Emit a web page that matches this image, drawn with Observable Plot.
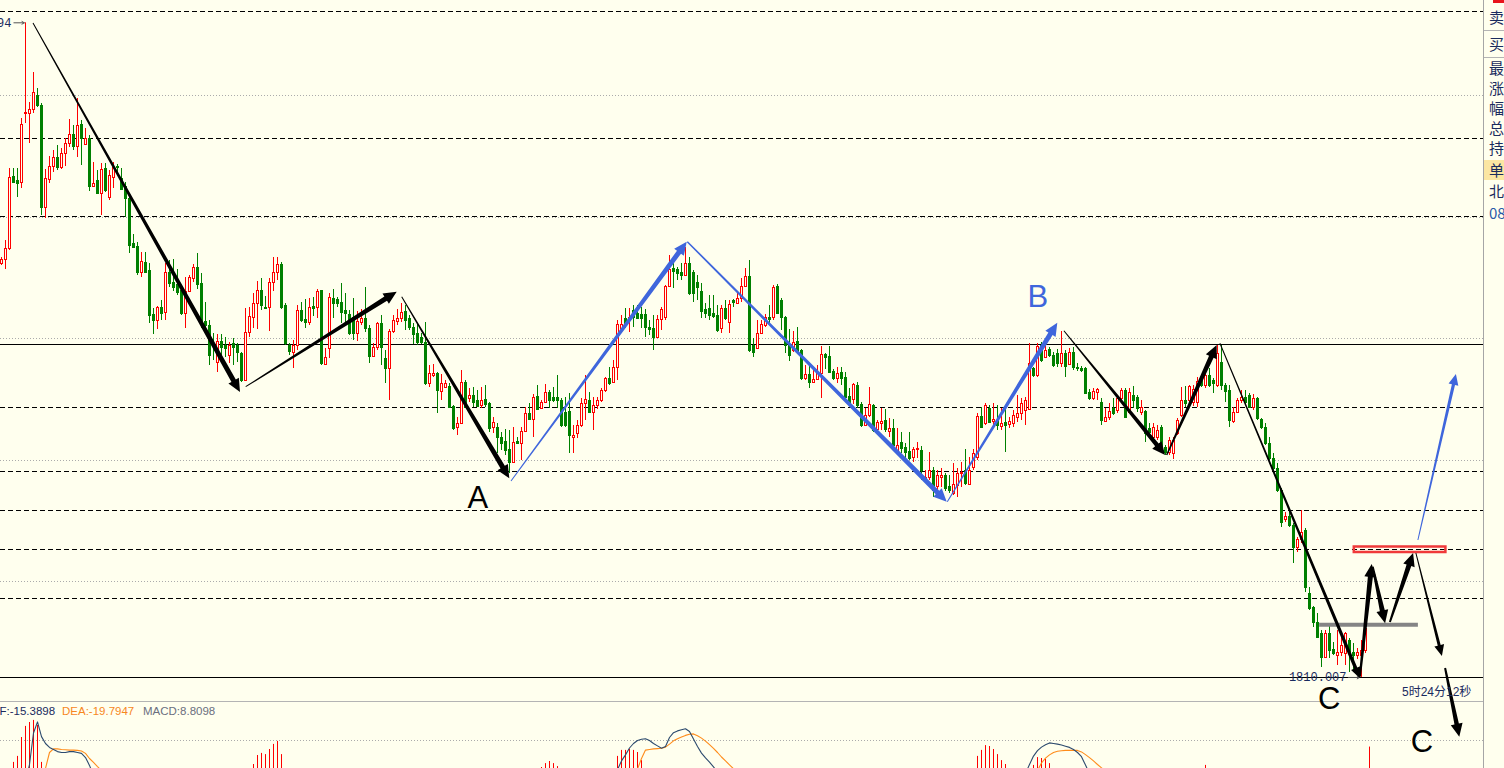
<!DOCTYPE html>
<html><head><meta charset="utf-8">
<script src="https://cdn.jsdelivr.net/npm/d3@7"></script>
<script src="https://cdn.jsdelivr.net/npm/@observablehq/plot@0.6"></script>
<style>
html,body{margin:0;padding:0;background:#FFFFEE;}
#wrap{position:relative;width:1504px;height:768px;overflow:hidden;background:#FFFFEE;font-family:"Liberation Sans",Arial,sans-serif;}
#macd{position:absolute;left:0;top:701px;width:1483px;height:67px;overflow:hidden;}
#macdsep{position:absolute;left:0;top:701px;width:1483px;height:1px;background:#b4b4b4;}
#main{position:absolute;left:0;top:0;width:1504px;height:768px;}
.lbl{position:absolute;white-space:nowrap;font-size:11.5px;line-height:14px;}
#countdown{position:absolute;left:1402px;top:684px;font-size:12px;line-height:16px;color:#1a2b5e;white-space:nowrap;font-family:"Liberation Sans","Noto Sans CJK SC",sans-serif;}
#panel{position:absolute;left:1483px;top:0;width:21px;height:768px;border-left:1px solid #a6a6a6;background:#FFFFEE;overflow:hidden;}
.pt{position:absolute;left:5px;font-size:15px;line-height:20px;color:#1a2b5e;white-space:nowrap;font-family:"Noto Sans CJK SC",sans-serif;}
.pl{position:absolute;left:0;width:21px;height:1px;background:#b4b4b4;}
</style></head><body>
<div id="wrap">
  <div id="macd"></div>
  <div id="macdsep"></div>
  <div id="main"></div>
  <div class="lbl" style="left:-12px;top:704px;color:#1a2b5e">DIF:-15.3898</div>
  <div class="lbl" style="left:62px;top:704px;color:#f7871e">DEA:-19.7947</div>
  <div class="lbl" style="left:143px;top:704px;color:#6b6f7f">MACD:8.8098</div>
  <div id="countdown">5时24分12秒</div>
  <div id="panel">
    <div style="position:absolute;left:9px;top:0;width:12px;height:3px;background:#e8141c"></div>
    <div class="pl" style="top:30px"></div>
    <div class="pl" style="top:57px"></div>
    <div style="position:absolute;left:0;top:160px;width:21px;height:20px;background:#fbe6a2"></div>
    <div class="pt" style="top:7px">卖出价</div>
    <div class="pt" style="top:34px">买入价</div>
    <div class="pt" style="top:58px">最新价</div>
    <div class="pt" style="top:78px">涨跌</div>
    <div class="pt" style="top:98px">幅度</div>
    <div class="pt" style="top:118px">总手</div>
    <div class="pt" style="top:138px">持仓</div>
    <div class="pt" style="top:160px">单量</div>
    <div class="pt" style="top:181px">北京时间</div>
    <div class="pt" style="top:203px;color:#2a5aa8">08:35:48</div>
  </div>
</div>
<script>
// ---------- DATA ----------
// candles: [open, high, low, close], one row per bar (index = position)
const ohlc = [
[1892.8,1894.0,1892.4,1893.6],[1893.6,1897.4,1891.6,1895.8],[1895.8,1911.8,1895.4,1910.0],[1910.2,1911.8,1908.8,1909.0],
[1909.4,1911.8,1906.0,1908.8],[1909.0,1921.8,1907.8,1920.6],[1922.8,1940.94,1920.8,1923.0],[1922.8,1925.0,1916.8,1923.6],
[1923.6,1931.0,1922.8,1927.0],[1926.4,1927.8,1924.0,1924.4],[1924.4,1924.8,1902.4,1904.0],[1904.0,1911.6,1901.8,1909.8],
[1909.6,1914.2,1908.8,1912.2],[1912.2,1915.4,1911.0,1914.0],[1914.0,1916.4,1911.4,1912.0],[1912.0,1915.8,1911.6,1914.8],
[1914.8,1917.8,1912.2,1916.8],[1916.8,1921.6,1916.0,1918.6],[1918.6,1920.4,1915.4,1916.2],[1916.2,1925.8,1914.0,1920.4],
[1920.6,1921.4,1912.4,1917.8],[1916.6,1919.8,1916.4,1917.8],[1917.8,1918.4,1907.2,1908.2],[1908.2,1913.0,1908.0,1908.8],
[1909.4,1911.4,1906.6,1906.8],[1906.8,1912.8,1902.4,1911.6],[1911.8,1912.8,1907.0,1907.4],[1906.0,1911.4,1905.4,1910.4],
[1910.0,1913.0,1907.8,1912.0],[1912.2,1912.6,1910.4,1912.0],[1909.8,1911.8,1907.4,1907.6],[1908.2,1909.0,1902.0,1905.8],
[1905.8,1906.8,1894.8,1896.4],[1896.8,1898.6,1895.8,1896.0],[1896.2,1897.0,1890.4,1891.0],[1891.0,1895.0,1890.0,1893.2],
[1893.0,1895.0,1890.8,1891.0],[1891.4,1892.8,1880.8,1882.4],[1882.6,1883.8,1878.6,1881.4],[1881.4,1884.2,1879.6,1884.0],
[1884.0,1885.4,1881.4,1882.8],[1883.0,1892.8,1881.4,1891.0],[1891.0,1893.4,1888.0,1888.8],[1889.0,1893.6,1887.2,1888.0],
[1888.6,1891.6,1886.4,1887.0],[1887.4,1888.4,1882.4,1882.8],[1882.8,1890.0,1879.8,1887.2],[1887.2,1890.4,1887.0,1890.0],
[1889.8,1892.6,1889.0,1892.0],[1892.0,1894.8,1887.6,1888.6],[1888.8,1890.8,1879.8,1881.0],[1881.2,1885.0,1878.8,1880.4],
[1880.4,1881.4,1872.4,1874.4],[1876.8,1878.8,1873.4,1876.2],[1873.0,1878.6,1871.0,1877.2],[1877.2,1878.6,1873.0,1876.0],
[1876.4,1878.0,1874.0,1875.8],[1874.4,1877.0,1872.8,1876.4],[1876.8,1877.8,1872.4,1876.0],[1876.4,1876.8,1873.0,1875.0],
[1874.8,1875.0,1869.0,1869.4],[1869.4,1883.8,1869.2,1879.0],[1879.0,1884.0,1878.0,1882.2],[1882.0,1886.8,1879.8,1884.8],
[1884.8,1889.2,1879.6,1887.4],[1887.4,1889.8,1883.4,1884.4],[1884.0,1886.2,1883.6,1883.8],[1884.0,1889.8,1879.2,1889.0],
[1889.0,1894.0,1887.2,1891.0],[1891.0,1894.0,1889.4,1892.6],[1892.6,1893.0,1883.6,1884.0],[1884.4,1884.8,1876.4,1876.8],
[1876.4,1876.8,1874.4,1875.2],[1875.0,1877.4,1871.8,1876.4],[1876.4,1884.4,1875.4,1883.4],[1883.4,1885.0,1881.0,1881.4],
[1881.6,1885.6,1879.8,1881.0],[1881.0,1885.8,1880.4,1884.0],[1884.2,1886.0,1882.2,1883.8],[1884.0,1887.6,1881.8,1887.2],
[1887.4,1887.4,1872.4,1872.8],[1872.6,1875.8,1872.4,1874.0],[1875.8,1886.8,1873.8,1886.0],[1885.8,1887.6,1881.8,1884.8],
[1885.6,1886.0,1884.0,1884.8],[1885.0,1888.8,1880.8,1883.0],[1883.4,1886.8,1880.8,1882.8],[1882.6,1883.4,1878.4,1878.8],
[1882.0,1885.8,1877.4,1878.8],[1878.8,1883.2,1877.2,1881.2],[1881.0,1883.6,1880.4,1881.8],[1881.8,1888.0,1879.0,1879.8],
[1879.8,1880.4,1872.8,1874.2],[1874.2,1876.8,1874.0,1876.0],[1876.0,1881.0,1875.4,1880.8],[1880.8,1882.4,1872.4,1876.0],
[1873.8,1875.4,1868.8,1871.8],[1871.8,1879.6,1865.4,1879.2],[1879.2,1882.4,1878.8,1881.4],[1881.2,1883.6,1880.4,1881.8],
[1881.8,1884.8,1881.0,1883.0],[1883.2,1884.4,1879.4,1881.4],[1881.8,1882.4,1879.4,1880.0],[1880.0,1880.8,1876.6,1878.6],
[1878.8,1880.8,1876.4,1877.0],[1878.0,1878.8,1876.6,1877.0],[1877.0,1881.0,1868.4,1868.8],[1868.8,1872.4,1868.0,1870.8],
[1870.4,1872.6,1870.0,1870.8],[1870.8,1871.0,1862.8,1867.4],[1867.2,1870.6,1865.4,1868.8],[1868.0,1869.4,1867.8,1868.8],
[1868.2,1868.8,1863.8,1864.0],[1864.2,1864.4,1859.4,1859.8],[1860.0,1862.0,1858.4,1860.8],[1860.8,1871.4,1860.6,1869.0],
[1869.0,1869.4,1863.8,1864.0],[1865.8,1867.8,1865.0,1866.4],[1866.4,1868.0,1864.0,1865.0],[1865.4,1867.4,1864.0,1864.2],
[1864.4,1868.0,1863.8,1865.4],[1865.6,1868.4,1864.0,1864.6],[1864.8,1865.0,1859.0,1859.8],[1860.0,1862.0,1858.8,1861.0],
[1860.0,1860.8,1854.8,1858.0],[1858.0,1859.0,1855.4,1856.8],[1857.2,1859.6,1854.4,1855.4],[1855.6,1859.4,1850.8,1853.0],
[1853.0,1860.0,1852.8,1857.0],[1857.2,1858.0,1856.6,1856.8],[1856.8,1860.0,1853.4,1859.2],[1859.2,1864.0,1859.0,1862.8],
[1862.8,1864.8,1861.4,1861.6],[1861.6,1866.6,1858.0,1866.0],[1866.2,1868.4,1863.4,1863.6],[1863.8,1865.4,1863.6,1865.0],
[1865.0,1868.6,1864.8,1867.0],[1867.0,1867.4,1863.8,1865.4],[1866.0,1868.0,1865.0,1865.4],[1866.0,1870.4,1863.8,1865.4],
[1865.4,1865.8,1860.0,1860.4],[1863.0,1866.0,1860.0,1860.4],[1863.2,1866.8,1854.8,1858.4],[1858.0,1860.4,1854.8,1858.4],
[1858.8,1861.4,1857.8,1860.4],[1860.4,1865.8,1860.0,1864.8],[1864.8,1870.4,1861.4,1865.6],[1865.4,1867.0,1862.8,1863.0],
[1863.0,1866.0,1859.4,1864.4],[1864.4,1866.0,1863.6,1865.4],[1865.4,1867.8,1865.0,1867.4],[1867.4,1870.0,1867.0,1869.8],
[1869.8,1872.0,1868.4,1868.8],[1869.0,1873.4,1868.8,1872.0],[1872.0,1881.4,1869.4,1880.6],[1879.8,1882.4,1879.4,1880.6],
[1881.8,1883.8,1879.8,1880.6],[1881.4,1883.8,1879.0,1882.0],[1883.4,1884.4,1880.0,1882.0],[1882.8,1884.4,1881.6,1881.8],
[1882.6,1884.0,1879.8,1881.8],[1882.6,1883.6,1878.0,1880.0],[1880.0,1881.4,1878.4,1879.6],[1879.8,1882.4,1875.4,1878.0],
[1878.0,1882.4,1877.8,1881.6],[1881.6,1884.0,1879.4,1883.6],[1882.0,1888.4,1881.4,1888.2],[1888.2,1894.4,1888.0,1891.6],
[1891.8,1893.4,1887.8,1891.2],[1891.6,1892.0,1889.4,1890.8],[1891.0,1892.8,1889.4,1890.4],[1890.4,1896.0,1890.2,1892.8],
[1892.8,1894.0,1886.4,1886.8],[1891.0,1891.4,1885.0,1886.8],[1889.0,1890.4,1885.4,1888.0],[1887.2,1888.8,1881.8,1883.2],
[1883.6,1884.8,1881.8,1882.8],[1883.8,1886.4,1881.4,1882.4],[1882.8,1886.4,1881.8,1882.2],[1882.4,1884.4,1879.0,1879.4],
[1879.8,1884.4,1878.8,1883.8],[1883.8,1885.4,1881.4,1881.8],[1881.0,1885.4,1878.8,1884.6],[1885.4,1885.6,1884.0,1885.0],
[1884.8,1886.8,1884.6,1885.8],[1885.8,1889.8,1885.0,1888.2],[1888.2,1891.8,1888.0,1890.2],[1890.2,1893.4,1875.0,1875.4],
[1876.4,1877.8,1874.0,1875.0],[1875.8,1881.4,1875.6,1878.8],[1878.8,1881.4,1878.6,1880.6],[1880.4,1882.6,1880.0,1882.0],
[1882.0,1884.4,1880.8,1881.6],[1882.0,1888.4,1881.4,1888.0],[1888.2,1888.6,1882.6,1882.8],[1885.4,1885.8,1879.4,1882.0],
[1882.0,1882.2,1874.8,1876.4],[1876.4,1879.6,1873.2,1874.4],[1875.4,1879.2,1875.0,1877.0],[1877.2,1880.0,1875.0,1875.2],
[1875.4,1875.6,1869.4,1869.8],[1869.8,1872.4,1869.4,1870.6],[1870.6,1872.2,1867.8,1869.0],[1869.0,1872.0,1868.8,1869.6],
[1869.6,1872.4,1869.4,1870.8],[1870.8,1876.2,1865.8,1874.6],[1874.6,1874.8,1871.6,1874.0],[1874.2,1876.2,1870.8,1871.0],
[1871.2,1871.6,1869.4,1869.8],[1869.8,1872.0,1868.8,1870.8],[1871.0,1872.0,1868.4,1869.8],[1870.0,1871.0,1865.4,1866.0],
[1866.2,1867.8,1864.6,1864.8],[1865.6,1868.8,1864.6,1868.6],[1868.4,1869.0,1863.8,1864.4],[1864.6,1865.0,1860.0,1860.4],
[1860.4,1863.8,1860.2,1862.4],[1862.4,1868.0,1862.0,1864.6],[1864.4,1864.6,1859.0,1859.4],[1859.6,1861.4,1859.2,1861.0],
[1860.8,1863.8,1859.4,1861.2],[1861.4,1863.6,1859.0,1859.6],[1859.2,1861.8,1858.0,1859.8],[1859.8,1861.6,1856.0,1856.4],
[1855.2,1859.8,1854.8,1856.4],[1857.0,1859.0,1854.8,1855.8],[1856.0,1856.8,1853.4,1855.0],[1855.2,1859.0,1853.4,1853.8],
[1854.0,1856.0,1853.0,1855.6],[1855.6,1857.0,1853.8,1855.8],[1855.4,1856.2,1849.4,1851.4],[1849.4,1851.4,1849.0,1850.0],
[1850.0,1855.0,1849.4,1851.4],[1851.4,1852.0,1846.0,1847.4],[1848.2,1851.4,1847.4,1850.4],[1850.0,1851.8,1848.0,1850.4],
[1850.4,1850.8,1847.2,1847.8],[1848.2,1850.4,1846.8,1847.4],[1846.8,1852.8,1846.4,1848.6],[1848.4,1851.8,1846.0,1850.8],
[1850.8,1853.0,1848.0,1851.0],[1851.4,1855.6,1848.4,1848.8],[1848.6,1854.0,1848.4,1851.4],[1852.0,1855.6,1851.4,1854.8],
[1854.0,1862.8,1853.4,1862.2],[1862.2,1864.0,1859.8,1860.0],[1860.8,1864.8,1860.4,1864.4],[1863.8,1864.4,1860.8,1861.0],
[1861.2,1864.8,1860.0,1861.6],[1861.4,1864.4,1859.4,1860.4],[1860.2,1863.8,1859.4,1860.8],[1861.0,1863.8,1855.0,1860.4],
[1860.6,1862.0,1859.8,1861.2],[1860.8,1863.4,1860.0,1862.4],[1862.0,1866.4,1861.0,1862.8],[1862.8,1865.8,1861.4,1864.8],
[1863.4,1866.0,1860.4,1865.4],[1863.6,1876.8,1863.4,1872.8],[1871.8,1872.0,1870.0,1870.4],[1870.4,1876.8,1870.0,1876.2],
[1876.4,1877.0,1873.0,1873.4],[1874.0,1876.8,1873.8,1875.4],[1875.6,1876.0,1874.0,1874.4],[1874.4,1875.0,1872.0,1872.4],
[1874.8,1875.6,1872.0,1872.8],[1872.8,1879.2,1872.0,1874.8],[1874.8,1875.4,1870.0,1872.2],[1872.6,1875.8,1872.4,1875.0],
[1875.0,1876.0,1871.4,1872.0],[1872.0,1872.8,1871.2,1871.8],[1871.8,1872.2,1871.0,1871.4],[1871.8,1872.0,1866.6,1866.8],
[1867.0,1867.6,1865.4,1865.8],[1865.8,1867.8,1865.4,1867.2],[1867.0,1867.8,1865.4,1867.6],[1865.0,1865.8,1860.4,1861.4],
[1861.2,1863.8,1861.0,1862.0],[1862.0,1864.8,1861.4,1863.2],[1863.8,1865.8,1862.4,1862.8],[1863.4,1866.4,1862.8,1865.8],
[1865.8,1867.8,1865.4,1867.4],[1867.4,1867.8,1861.8,1862.0],[1863.0,1867.8,1862.8,1867.0],[1866.4,1868.2,1863.8,1865.4],
[1866.0,1866.4,1863.0,1863.8],[1863.0,1865.4,1862.4,1864.0],[1863.2,1863.4,1857.0,1858.8],[1859.8,1860.8,1857.8,1859.0],
[1858.0,1860.8,1857.8,1860.0],[1858.0,1860.4,1857.4,1859.4],[1860.0,1860.4,1855.0,1856.0],[1856.0,1856.4,1854.4,1855.0],
[1855.0,1858.0,1854.4,1857.4],[1854.8,1858.0,1853.6,1857.4],[1858.8,1861.8,1858.4,1861.4],[1862.4,1868.0,1862.0,1865.4],
[1865.4,1868.2,1864.0,1864.8],[1865.4,1868.4,1864.8,1868.2],[1865.0,1868.4,1864.2,1867.6],[1865.0,1870.0,1864.0,1869.2],
[1869.4,1870.2,1868.0,1868.4],[1868.4,1871.0,1867.8,1870.4],[1870.4,1871.8,1868.0,1868.4],[1869.4,1869.8,1866.8,1868.8],
[1868.4,1876.4,1868.0,1874.8],[1873.0,1876.4,1867.4,1868.4],[1868.4,1868.8,1865.0,1867.2],[1867.4,1868.4,1860.0,1861.4],
[1861.2,1864.0,1860.8,1863.0],[1863.0,1865.8,1862.8,1865.4],[1865.4,1867.4,1864.8,1866.0],[1866.0,1867.4,1864.4,1865.0],
[1866.4,1866.8,1863.8,1864.0],[1864.0,1866.6,1863.4,1865.8],[1865.8,1866.0,1861.4,1861.8],[1861.6,1861.8,1859.6,1860.0],
[1860.0,1860.8,1856.4,1856.8],[1856.8,1858.0,1853.4,1853.8],[1853.8,1854.8,1851.4,1851.8],[1851.8,1852.8,1847.0,1847.4],
[1847.4,1847.8,1840.0,1841.0],[1841.6,1843.0,1841.0,1842.2],[1842.2,1843.2,1840.0,1840.4],[1840.4,1840.8,1832.8,1836.0],
[1836.0,1838.0,1835.0,1837.6],[1837.6,1843.4,1836.8,1839.0],[1839.4,1839.8,1827.0,1828.0],[1826.8,1828.0,1823.4,1823.8],
[1824.0,1824.2,1820.0,1821.0],[1821.0,1822.8,1817.8,1818.0],[1818.8,1819.4,1812.0,1814.0],[1814.0,1819.4,1813.8,1818.8],
[1818.8,1820.8,1813.8,1815.4],[1815.6,1817.0,1814.4,1814.8],[1814.4,1819.4,1812.4,1815.0],[1815.0,1818.8,1814.2,1816.4],
[1814.8,1819.0,1812.4,1818.8],[1817.4,1817.8,1811.0,1814.8],[1815.0,1816.8,1811.0,1814.4],[1814.4,1815.8,1813.6,1815.0],
[1814.4,1817.4,1810.007,1815.4],[1815.4,1820.8,1814.8,1819.8]
];
const highLabel = "1940.94";
const lowLabel = "1810.007";

// horizontal price levels
const gridLevels = [1926.4, 1902.0, 1877.8, 1853.4, 1829.2];
const dashedLevels = [1943.2, 1917.8, 1902.2, 1864.0, 1851.2, 1843.4, 1835.6, 1825.8];
const solidLevels = [1876.6, 1810.0];

// annotation arrows (bar index, price)
const arrowFrom = [[7.875,1940.8],[61.05,1868.06],[100.05,1886.06],[127.375,1849.2],[171.45,1897.06],[236.45,1845.06],[265.6,1879.26],[291.3,1854.4],[304.6,1876.74],[339.6,1810.06],[342.8,1832.06],[347.1,1821.0],[353.6,1834.8],[360.9,1811.8],[354.1,1837.4]];
const arrowTo = [[59.625,1867.0],[98.8,1887.06],[126.95,1849.74],[171.3,1897.06],[236.3,1845.06],[263.95,1880.86],[290.9,1854.4],[303.8,1876.4],[339.6,1809.74],[342.55,1832.6],[345.9,1820.74],[352.9,1834.8],[360.1,1814.2],[364.45,1798.06],[363.6,1870.6]];
const arrowKind = ["k","k","k","b","b","b","k","k","k","k","k","k","k","k","b"];

// wave labels
const waveText = ["A","B","C","C"];
const waveX = [119.1, 259.1, 331.9, 355.1];
const waveY = [1845.8, 1886.0, 1805.6, 1797.0];
const waveKind = ["k","b","k","k"];

// gray level bar and red box
const grayBar = {x1: 329.4, x2: 354.1, y: 1820.54};
const redBox = {x1: 338.2, x2: 361.1, y1: 1836.1, y2: 1835.0};

// MACD histogram (bar index, value) and DIF / DEA visible segments
const histIdx = [3,4,5,6,7,8,9,10, 63,64,65,66,67,68,69,70, 135,136,137,138,139, 154,155,156,157,158,159,160, 244,245,246,247,248,249,250,251, 258,259,260,261,262, 301, 342];
const histVal = [3.7,5.7,12,15.7,17,17.7,16,3.7, 3,6,6.7,6.3,8,9.7,10.7,6.3, 2,3.3,4,3.3,2.3, 5.7,7.7,7.7,8,7.7,7,4.3, 5.7,7.7,9.3,9,8,6.3,4.3,3, 2.7,5.3,5,4.7,3.3, 2.7, 8.81];
const difStart = [5, 153, 255];
const difVals = [
  [-9,-3,3.0,13.5,17.2,12.3,10.0,8.7,8.0,7.3,7.0,7.0,7.3,7.3,7.0,6.7,5.3,2.7,-0.7,-4],
  [-2,1.3,4.2,6.2,8.5,10.0,11.0,11.4,11.6,11.0,10.0,9.2,8.4,9.0,12.0,13.6,14.2,14.6,14.9,14.0,11.5,9.0,6.8,5.2,3.8,2.2,0.5,-2],
  [-3,0,3.0,5.8,7.6,8.8,9.6,10.2,10.0,9.8,9.5,9.1,8.7,8.0,7.0,5.6,2.8,0,-3]
];
const deaStart = [10, 158, 258];
const deaVals = [
  [-2,1.7,7.0,8.2,8.2,8.0,7.9,7.8,7.8,7.7,7.5,6.7,5.0,3.7,2.3,1.0,-0.5],
  [-1,1.5,5.0,7.8,8.0,8.2,8.3,8.4,8.8,9.8,10.9,11.6,12.2,12.7,13.1,13.2,12.6,11.8,10.8,9.6,8.4,7.0,5.5,4.2,2.9,1.6,0],
  [-1,1.0,3.5,5.1,6.2,7.0,7.4,7.6,7.7,7.7,7.7,7.7,7.2,6.3,5.3,4.2,3.0,1.9,0.7,-0.5]
];
const macdGrid = [11];

// ---------- STYLE ----------
const BG = "#FFFFEE", RED = "#ff0000", GREEN = "#008000", BLUE = "#3f66dc", INK = "#1a2b5e";
const arrowStyle = {k: {color: "#000"}, b: {color: BLUE}};
const arrowSize = [[1,5,13,6],[1,5,13,6],[1,5,13,6],[1,5,13,6],[1.5,5,13,6],[1,5,13,6],[1,4.5,13,6],[1.5,5,13,6],[1,3.5,11,5],[2,5,13,6],[2,5,13,6],[2,5,13,6],[1,3,11,5],[2,4.5,13,6],[1,3.2,11,5]];
const X_DOMAIN = [-0.375, 370.125], X_RANGE = [-0.5, 1481.5];

// ---------- BUILD ----------
const candles = ohlc.map(([o, h, l, c], i) => ({i, o, h, l, c}));
const ups = candles.filter(d => d.c >= d.o);
const downs = candles.filter(d => d.c < d.o);
const lo = d => Math.min(d.l, d.o, d.c), hi = d => Math.max(d.h, d.o, d.c);
const hiBar = candles.reduce((a, b) => (b.h > a.h ? b : a));
const loBar = candles.reduce((a, b) => (b.l < a.l ? b : a));
const waves = waveText.map((t, k) => ({t, x: waveX[k], y: waveY[k], kind: waveKind[k]}));

const main = Plot.plot({
  width: 1504, height: 768, margin: 0,
  x: {type: "linear", domain: X_DOMAIN, range: X_RANGE, axis: null},
  y: {type: "linear", domain: [1791.8, 1945.4], range: [768, 0], axis: null},
  style: {background: "transparent"},
  marks: [
    Plot.ruleY(gridLevels, {stroke: "#ababab", strokeDasharray: "1,2"}),
    Plot.ruleY(dashedLevels, {stroke: "#000", strokeDasharray: "5,3"}),
    Plot.ruleY(solidLevels, {stroke: "#000"}),
    Plot.ruleX(ups, {x: "i", y1: lo, y2: hi, stroke: RED, strokeWidth: 1}),
    Plot.ruleX(downs, {x: "i", y1: lo, y2: hi, stroke: GREEN, strokeWidth: 1}),
    Plot.rect(ups, {x1: d => d.i - 0.25, x2: d => d.i + 0.25, y1: "o", y2: "c", fill: BG, stroke: RED, strokeWidth: 1, shapeRendering: "crispEdges"}),
    Plot.rect(downs, {x1: d => d.i - 0.25, x2: d => d.i + 0.25, y1: "o", y2: "c", fill: GREEN, stroke: GREEN, strokeWidth: 1, shapeRendering: "crispEdges"}),
    Plot.link([grayBar], {x1: "x1", x2: "x2", y1: "y", y2: "y", stroke: "#858585", strokeWidth: 4}),
    Plot.rect([redBox], {x1: "x1", x2: "x2", y1: "y1", y2: "y2", fill: "none", stroke: "#f03a3a", strokeWidth: 2.5}),
    Plot.text([hiBar], {x: "i", y: "h", text: () => highLabel, dx: -14, textAnchor: "end", fill: INK, fontSize: 12, fontFamily: "Liberation Mono"}),
    Plot.arrow([hiBar], {x1: d => d.i - 2.9, x2: d => d.i - 0.3, y1: "h", y2: "h", stroke: "#555", strokeWidth: 1, headLength: 4}),
    Plot.text([loBar], {x: "i", y: "l", text: () => lowLabel, dx: -15, textAnchor: "end", fill: INK, fontSize: 12, fontFamily: "Liberation Mono"}),
    Plot.arrow([loBar], {x1: d => d.i - 3.3, x2: d => d.i - 0.5, y1: "l", y2: "l", stroke: "#555", strokeWidth: 1, headLength: 4}),
    Plot.text(waves.filter(d => d.kind === "k"), {x: "x", y: "y", text: "t", fill: "#000", fontSize: 31, fontFamily: "Liberation Sans", textAnchor: "middle", lineAnchor: "middle"}),
    Plot.text(waves.filter(d => d.kind === "b"), {x: "x", y: "y", text: "t", fill: BLUE, fontSize: 31, fontFamily: "Liberation Sans", textAnchor: "middle", lineAnchor: "middle"})
  ]
});
document.getElementById("main").appendChild(main);

// tapered annotation arrows through the plot's own scales
(function drawArrows() {
  const sx = main.scale("x"), sy = main.scale("y");
  const X = sx.apply ? v => sx.apply(v) : d3.scaleLinear(sx.domain, sx.range);
  const Y = sy.apply ? v => sy.apply(v) : d3.scaleLinear(sy.domain, sy.range);
  const g = d3.select(main).append("g");
  arrowFrom.forEach((f, k) => {
    const t = arrowTo[k];
    const [w0, w1, hl, hw] = arrowSize[k];
    const x0 = X(f[0]) + 0.5, y0 = Y(f[1]), x1 = X(t[0]) + 0.5, y1 = Y(t[1]);
    const dx = x1 - x0, dy = y1 - y0, len = Math.hypot(dx, dy);
    const ux = dx / len, uy = dy / len, nx = -uy, ny = ux;
    const bx = x1 - ux * hl, by = y1 - uy * hl;
    const pts = [
      [x0 + nx * w0 / 2, y0 + ny * w0 / 2], [bx + nx * w1 / 2, by + ny * w1 / 2], [bx + nx * hw, by + ny * hw],
      [x1, y1], [bx - nx * hw, by - ny * hw], [bx - nx * w1 / 2, by - ny * w1 / 2], [x0 - nx * w0 / 2, y0 - ny * w0 / 2]
    ];
    g.append("path").attr("d", "M" + pts.map(p => p.join(",")).join("L") + "Z")
      .attr("fill", arrowStyle[arrowKind[k]].color);
  });
})();

// MACD sub-panel
const hist = histIdx.map((i, k) => ({i, v: histVal[k]}));
const seg = (starts, vals) => starts.flatMap((s, k) => vals[k].map((v, j) => ({i: s + j, v, z: k})));
const dif = seg(difStart, difVals), dea = seg(deaStart, deaVals);
const macd = Plot.plot({
  width: 1483, height: 67, margin: 0,
  x: {type: "linear", domain: X_DOMAIN, range: X_RANGE, axis: null},
  y: {type: "linear", domain: [0, 24], range: [72, 0], axis: null},
  style: {background: "transparent", overflow: "hidden"},
  marks: [
    Plot.ruleY(macdGrid, {stroke: "#ababab", strokeDasharray: "1,2"}),
    Plot.ruleX(hist, {x: "i", y1: 0, y2: "v", stroke: RED, strokeWidth: 1}),
    Plot.line(dea, {x: "i", y: "v", z: "z", stroke: "#ff8c1a", strokeWidth: 1.1}),
    Plot.line(dif, {x: "i", y: "v", z: "z", stroke: "#2c4a6e", strokeWidth: 1.1})
  ]
});
document.getElementById("macd").appendChild(macd);
</script>
</body></html>
